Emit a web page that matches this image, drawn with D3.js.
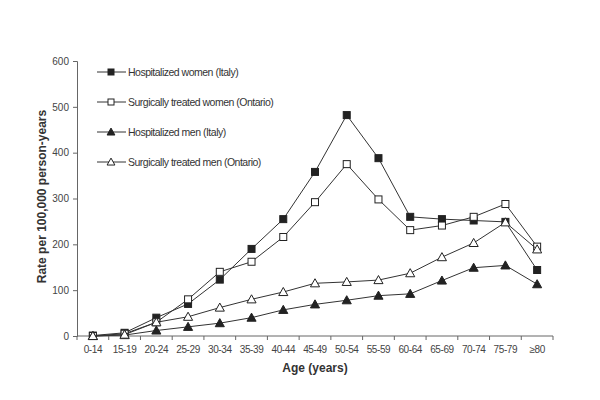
<!DOCTYPE html>
<html><head><meta charset="utf-8">
<script src="https://cdn.jsdelivr.net/npm/d3@7"></script>
<style>body{margin:0;background:#fff}svg{display:block}</style>
</head><body>
<svg id="c" width="600" height="400"></svg>
<script>
const categories = ["0-14","15-19","20-24","25-29","30-34","35-39","40-44","45-49","50-54","55-59","60-64","65-69","70-74","75-79","≥80"];
const hospWomenItaly = [1,7,40,70,123,190,255,358,482,388,260,255,252,249,144];
const surgWomenOntario = [0,5,30,80,140,162,216,292,375,298,231,241,260,288,195];
const hospMenItaly = [0,2,12,20,28,40,57,69,78,88,92,121,149,154,113];
const surgMenOntario = [0,3,30,42,62,80,96,115,118,122,137,172,203,248,189];
const yTicks = [0,100,200,300,400,500,600];
const seriesNames = ["Hospitalized women (Italy)","Surgically treated women (Ontario)","Hospitalized men (Italy)","Surgically treated men (Ontario)"];

const series = [
  {name: seriesNames[0], values: hospWomenItaly, shape: "square", fill: "#222"},
  {name: seriesNames[1], values: surgWomenOntario, shape: "square", fill: "#fff"},
  {name: seriesNames[2], values: hospMenItaly, shape: "triangle", fill: "#222"},
  {name: seriesNames[3], values: surgMenOntario, shape: "triangle", fill: "#fff"}
];

const svg = d3.select("#c");
const mL = 77, mR = 553, mT = 61, mB = 336;
const x = d3.scaleBand().domain(categories).range([mL, mR]).padding(0);
const y = d3.scaleLinear().domain([0, 600]).range([mB, mT]);
const font = "'Liberation Sans', Arial, sans-serif";
const ink = "#333";

// Y axis
const yAxis = svg.append("g").attr("transform", `translate(${mL},0)`)
  .call(d3.axisLeft(y).tickValues(yTicks).tickSize(4).tickPadding(4));
yAxis.select(".domain").attr("stroke", "#666");
yAxis.selectAll(".tick line").attr("stroke", "#666");
yAxis.selectAll("text").attr("font-family", font).attr("font-size", 10).attr("fill", "#444");

// X axis with ticks at band boundaries
const xg = svg.append("g").attr("transform", `translate(0,${mB})`);
xg.append("line").attr("x1", mL).attr("x2", mR).attr("y1", 0).attr("y2", 0).attr("stroke", "#666");
const bounds = categories.map(c => x(c)).concat([mR]);
xg.selectAll("line.tk").data(bounds).join("line").attr("class","tk")
  .attr("x1", d => d).attr("x2", d => d).attr("y1", 0).attr("y2", 4).attr("stroke", "#666");
xg.selectAll("text").data(categories).join("text")
  .attr("x", d => x(d) + x.bandwidth()/2).attr("y", 17)
  .attr("text-anchor", "middle").attr("font-family", font).attr("font-size", 10)
  .attr("fill", "#444").attr("letter-spacing", -0.4).text(d => d);

// Axis titles
svg.append("text").attr("transform", `translate(46,${(mT+mB)/2 - 2}) rotate(-90)`)
  .attr("text-anchor", "middle").attr("font-family", font).attr("font-size", 12)
  .attr("font-weight", "bold").attr("fill", "#333").text("Rate per 100,000 person-years");
svg.append("text").attr("x", 315).attr("y", 372).attr("text-anchor", "middle")
  .attr("font-family", font).attr("font-size", 12).attr("font-weight", "bold")
  .attr("fill", "#333").text("Age (years)");

const line = d3.line().x((d, i) => x(categories[i]) + x.bandwidth()/2).y(d => y(d));

function marker(g, shape, fill, cx, cy, s) {
  if (shape === "square") {
    g.append("rect").attr("x", cx - s/2).attr("y", cy - s/2).attr("width", s).attr("height", s)
      .attr("fill", fill).attr("stroke", "#222").attr("stroke-width", 1);
  } else {
    const h = s * 0.65;
    g.append("path").attr("d", `M${cx},${cy-h}L${cx+h},${cy+h*0.78}L${cx-h},${cy+h*0.78}Z`)
      .attr("fill", fill).attr("stroke", "#222").attr("stroke-width", 1);
  }
}

series.forEach(s => {
  const g = svg.append("g");
  g.append("path").datum(s.values).attr("d", line).attr("fill", "none")
    .attr("stroke", ink).attr("stroke-width", 1);
  s.values.forEach((v, i) => marker(g, s.shape, s.fill, x(categories[i]) + x.bandwidth()/2, y(v), 7));
});

// Legend
const legendY = [72, 102, 132, 162];
series.forEach((s, i) => {
  const g = svg.append("g");
  const ly = legendY[i];
  g.append("line").attr("x1", 97).attr("x2", 126).attr("y1", ly).attr("y2", ly).attr("stroke", ink);
  marker(g, s.shape, s.fill, 111, ly, 6);
  g.append("text").attr("x", 128).attr("y", ly + 4).attr("font-family", font).attr("font-size", 10.5)
    .attr("letter-spacing", -0.5).attr("fill", "#333").text(s.name);
});
</script>
</body></html>
